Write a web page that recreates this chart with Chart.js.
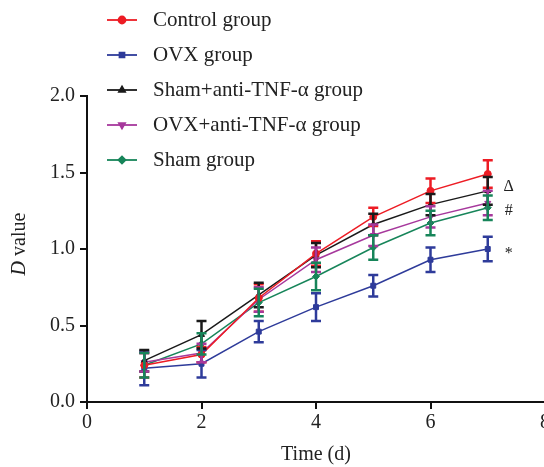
<!DOCTYPE html>
<html>
<head>
<meta charset="utf-8">
<script src="https://cdn.jsdelivr.net/npm/chart.js"></script>
<style>
  html, body { margin: 0; padding: 0; background: #fff; overflow: hidden; }
  #wrap { position: relative; width: 560px; height: 467px; }
</style>
</head>
<body>
<div id="wrap"><canvas id="dchart"></canvas></div>
<script>
// 時間 (d)
const days = [1, 2, 3, 4, 5, 6, 7];

// 各群の D value（平均値）と誤差
const controlVals = [0.24, 0.31, 0.68, 0.97, 1.21, 1.38, 1.49];
const controlErr  = [0.08, 0.05, 0.09, 0.08, 0.06, 0.08, 0.09];
const ovxVals     = [0.22, 0.25, 0.46, 0.62, 0.76, 0.93, 1.00];
const ovxErr      = [0.11, 0.09, 0.07, 0.09, 0.07, 0.08, 0.08];
const shamAntiVals = [0.27, 0.44, 0.70, 0.96, 1.16, 1.29, 1.38];
const shamAntiErr  = [0.07, 0.09, 0.08, 0.08, 0.07, 0.07, 0.09];
const ovxAntiVals  = [0.26, 0.32, 0.67, 0.93, 1.09, 1.21, 1.30];
const ovxAntiErr   = [0.06, 0.06, 0.08, 0.08, 0.07, 0.07, 0.08];
const shamVals     = [0.24, 0.38, 0.65, 0.82, 1.01, 1.17, 1.27];
const shamErr      = [0.08, 0.07, 0.09, 0.09, 0.08, 0.08, 0.08];

const groupNames = ['Control group', 'OVX group', 'Sham+anti-TNF-\u03b1 group', 'OVX+anti-TNF-\u03b1 group', 'Sham group'];

// 有意差の記号（day 7 の右側）
const markLabels = ['\u0394', '#', '*'];
const markValues = [1.405, 1.25, 0.99];

const SERIF = '"Liberation Serif", "Times New Roman", serif';

function makeSet(label, vals, errs, color, style, rot) {
    return {
        label: label,
        data: days.map((d, i) => ({ x: d, y: vals[i] })),
        errs: errs,
        borderColor: color,
        backgroundColor: color,
        borderWidth: 1.5,
        pointStyle: style,
        pointRotation: rot || 0,
        pointRadius: style === 'rect' ? 3.5 : 3.5,
        pointBorderWidth: 1,
        tension: 0
    };
}

const datasets = [
    makeSet(groupNames[0], controlVals, controlErr, '#ed1c24', 'circle'),
    makeSet(groupNames[1], ovxVals, ovxErr, '#2e3b9a', 'rect'),
    makeSet(groupNames[2], shamAntiVals, shamAntiErr, '#1a1a1a', 'triangle'),
    makeSet(groupNames[3], ovxAntiVals, ovxAntiErr, '#a6389c', 'triangle', 180),
    makeSet(groupNames[4], shamVals, shamErr, '#17855a', 'rectRot')
];

// エラーバー・凡例・注記を描くプラグイン
const extrasPlugin = {
    id: 'extras',
    afterDatasetsDraw(chart) {
        const ctx = chart.ctx;
        const xs = chart.scales.x, ys = chart.scales.y;
        ctx.save();
        chart.data.datasets.forEach(ds => {
            ctx.strokeStyle = ds.borderColor;
            ctx.lineWidth = 2.5;
            ds.data.forEach((p, i) => {
                const e = ds.errs[i];
                const px = xs.getPixelForValue(p.x);
                const top = ys.getPixelForValue(p.y + e);
                const bot = ys.getPixelForValue(p.y - e);
                ctx.beginPath();
                ctx.moveTo(px, top); ctx.lineTo(px, bot);
                ctx.moveTo(px - 5, top); ctx.lineTo(px + 5, top);
                ctx.moveTo(px - 5, bot); ctx.lineTo(px + 5, bot);
                ctx.stroke();
            });
        });
        ctx.restore();
    },
    afterDraw(chart) {
        const ctx = chart.ctx;
        const xs = chart.scales.x, ys = chart.scales.y;
        ctx.save();

        // 凡例
        const rows = [20, 55, 90, 125, 160];
        chart.data.datasets.forEach((ds, i) => {
            const y = rows[i];
            ctx.strokeStyle = ds.borderColor;
            ctx.lineWidth = 1.8;
            ctx.beginPath();
            ctx.moveTo(107, y); ctx.lineTo(137, y);
            ctx.stroke();
            ctx.fillStyle = ds.borderColor;
            Chart.helpers.drawPoint(ctx, {
                pointStyle: ds.pointStyle, radius: 3.5, rotation: ds.pointRotation, borderWidth: 1
            }, 122, y);
            ctx.fillStyle = '#222';
            ctx.font = '21px ' + SERIF;
            ctx.textAlign = 'left';
            ctx.textBaseline = 'middle';
            ctx.fillText(ds.label, 153, y);
        });

        // 注記
        ctx.fillStyle = '#222';
        ctx.font = '16px ' + SERIF;
        ctx.textAlign = 'center';
        ctx.textBaseline = 'middle';
        markLabels.forEach((m, i) => {
            ctx.fillText(m, xs.getPixelForValue(7) + 21, ys.getPixelForValue(markValues[i]) + (m === '*' ? 3 : 0));
        });

        // y 軸タイトル（D は斜体）
        ctx.translate(20, 244);
        ctx.rotate(-Math.PI / 2);
        ctx.textBaseline = 'middle';
        ctx.textAlign = 'left';
        ctx.font = 'italic 20px ' + SERIF;
        const w1 = ctx.measureText('D').width;
        ctx.font = '20px ' + SERIF;
        const w2 = ctx.measureText(' value').width;
        const start = -(w1 + w2) / 2;
        ctx.font = 'italic 20px ' + SERIF;
        ctx.fillText('D', start, 0);
        ctx.font = '20px ' + SERIF;
        ctx.fillText(' value', start + w1, 0);
        ctx.restore();
    }
};

const ctx = document.getElementById('dchart').getContext('2d');
new Chart(ctx, {
    type: 'line',
    data: { datasets: datasets },
    options: {
        responsive: true,
        maintainAspectRatio: false,
        animation: false,
        layout: { padding: { top: 96, right: 15, left: 0, bottom: 0 } },
        plugins: { legend: { display: false }, tooltip: { enabled: false } },
        scales: {
            x: {
                type: 'linear',
                min: 0, max: 8,
                afterFit: (scale) => { scale.height = 65; },
                ticks: { stepSize: 2, color: '#222', padding: 2, font: { family: SERIF, size: 20 } },
                grid: { drawOnChartArea: false, tickLength: 7, color: '#111', lineWidth: 2 },
                border: { color: '#111', width: 2 },
                title: { display: true, text: 'Time (d)', color: '#222', padding: { top: 0, bottom: 0 }, font: { family: SERIF, size: 20 } }
            },
            y: {
                min: 0, max: 2,
                afterFit: (scale) => { scale.width = 87; },
                ticks: {
                    stepSize: 0.5, color: '#222', padding: 5,
                    font: { family: SERIF, size: 20 },
                    callback: (v) => Number(v).toFixed(1)
                },
                grid: { drawOnChartArea: false, tickLength: 7, color: '#111', lineWidth: 2 },
                border: { color: '#111', width: 2 }
            }
        }
    },
    plugins: [extrasPlugin]
});
</script>
</body>
</html>
